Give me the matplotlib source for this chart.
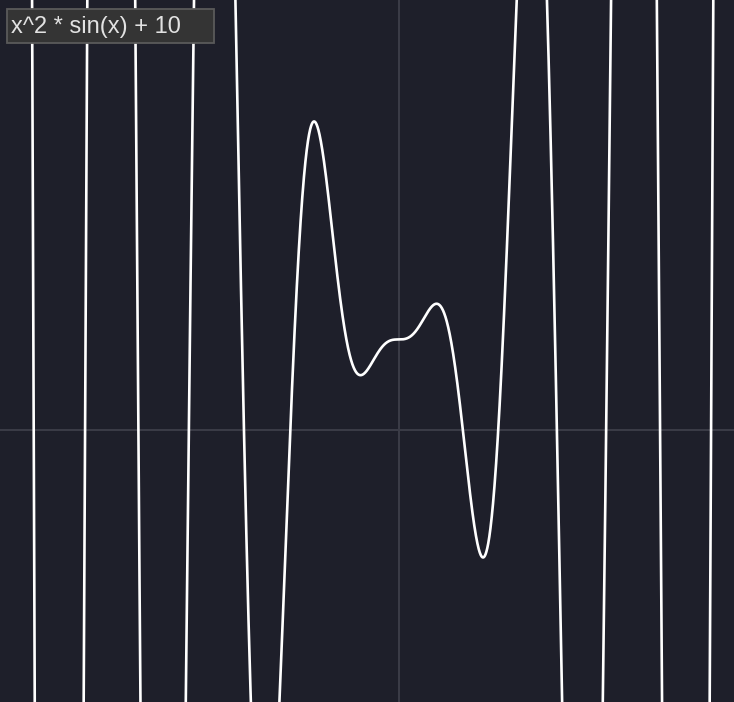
import numpy as np
import matplotlib.pyplot as plt
from matplotlib.patches import Rectangle

# function shown in the label, and the visible window
expr_label = 'x^2 * sin(x) + 10'
x_range = [-24.0, 20.2]
y_range = [-30.05, 47.5]

x = np.linspace(x_range[0], x_range[1], 4000)
y = x**2 * np.sin(x) + 10

fig = plt.figure(figsize=(7.34, 7.02), dpi=100)
fig.patch.set_facecolor('#1e1f2a')
ax = fig.add_axes([0, 0, 1, 1])
ax.set_facecolor('#1e1f2a')

ax.axhline(0, color='#3b3c47', lw=1.4, zorder=1)
ax.axvline(0, color='#3b3c47', lw=1.4, zorder=1)
ax.plot(x, y, color='white', lw=1.9, zorder=2)

ax.set_xlim(x_range)
ax.set_ylim(y_range)
ax.axis('off')

# label box (fixed size, top left)
fig.patches.append(Rectangle((7 / 734, 1 - 43 / 702), 207 / 734, 34 / 702,
                             transform=fig.transFigure, facecolor='#343434',
                             edgecolor='#5a5a5a', lw=1.3, zorder=5))
fig.text(11 / 734, 1 - 26.5 / 702, expr_label, family='Liberation Sans',
         fontsize=17, color='#e2e2e2', va='center', ha='left', zorder=6)

fig.savefig('out.png', dpi=100, facecolor=fig.get_facecolor())
